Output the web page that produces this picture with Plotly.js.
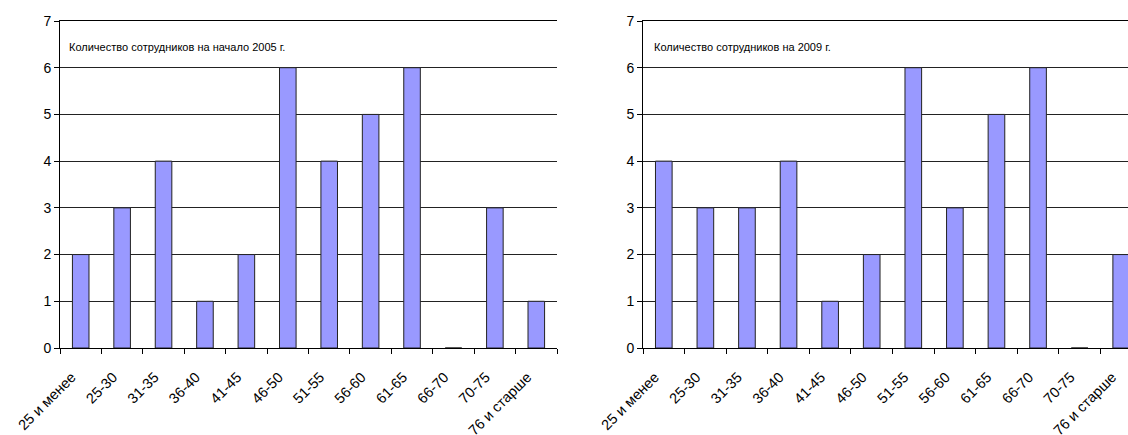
<!DOCTYPE html>
<html>
<head>
<meta charset="utf-8">
<script src="https://cdn.plot.ly/plotly-3.0.1.min.js"></script>
<style>
html,body{margin:0;padding:0;overflow:hidden;background:#fff;width:1128px;height:435px;}
#chart{width:1160px;height:435px;}
</style>
</head>
<body>
<div id="chart"></div>
<script>
const categories = ["25 и менее","25-30","31-35","36-40","41-45","46-50","51-55","56-60","61-65","66-70","70-75","76 и старше"];
const values2005 = [2,3,4,1,2,6,4,5,6,0,3,1];
const values2009 = [4,3,3,4,1,2,6,3,5,6,0,2];
const title2005 = "Количество сотрудников на начало 2005 г.";
const title2009 = "Количество сотрудников на 2009 г.";
const yTicks = [0,1,2,3,4,5,6,7];

const W = 1160, H = 435;
const barStyle = {color:'#9999FF', line:{color:'#222', width:1}};
const traces = [
  {type:'bar', x:categories, y:values2005, xaxis:'x', yaxis:'y', marker:barStyle, width:0.4, hoverinfo:'x+y'},
  {type:'bar', x:categories, y:values2009, xaxis:'x2', yaxis:'y2', marker:barStyle, width:0.4, hoverinfo:'x+y'}
];
const font = {family:'"Liberation Sans", Arial, sans-serif', color:'#000'};
function xa(d, anchor){
  return {domain:d, anchor:anchor, type:'category', tickangle:-45, tickson:'boundaries',
    ticks:'outside', ticklen:5, tickcolor:'#000', showline:true, linecolor:'#000', linewidth:1,
    mirror:true, showgrid:false, tickfont:Object.assign({size:14.5}, font), fixedrange:true,
    ticklabelstandoff:14, ticklabelshift:-9};
}
function ya(anchor){
  return {domain:[87/H, 414/H], anchor:anchor, range:[0,7], tickvals:yTicks, ticks:'outside', ticklen:5,
    tickcolor:'#000', showline:true, linecolor:'#000', linewidth:1, showgrid:true, gridcolor:'#222',
    gridwidth:1, zeroline:false, tickfont:Object.assign({size:14}, font), fixedrange:true};
}
const layout = {
  width:W, height:H, margin:{l:0,r:0,t:0,b:0}, showlegend:false,
  paper_bgcolor:'#fff', plot_bgcolor:'#fff', font:font,
  xaxis: xa([60/W, 557/W], 'y'),
  yaxis: ya('x'),
  xaxis2: xa([643/W, 1142/W], 'y2'),
  yaxis2: ya('x2'),
  annotations:[
    {xref:'x domain', yref:'y domain', x:0.014, y:0.92, xanchor:'left', yanchor:'middle', text:title2005, showarrow:false, font:Object.assign({size:11}, font), bgcolor:'#fff'},
    {xref:'x2 domain', yref:'y2 domain', x:0.018, y:0.92, xanchor:'left', yanchor:'middle', text:title2009, showarrow:false, font:Object.assign({size:11}, font), bgcolor:'#fff'}
  ]
};
Plotly.newPlot('chart', traces, layout, {staticPlot:true});
</script>
</body>
</html>
